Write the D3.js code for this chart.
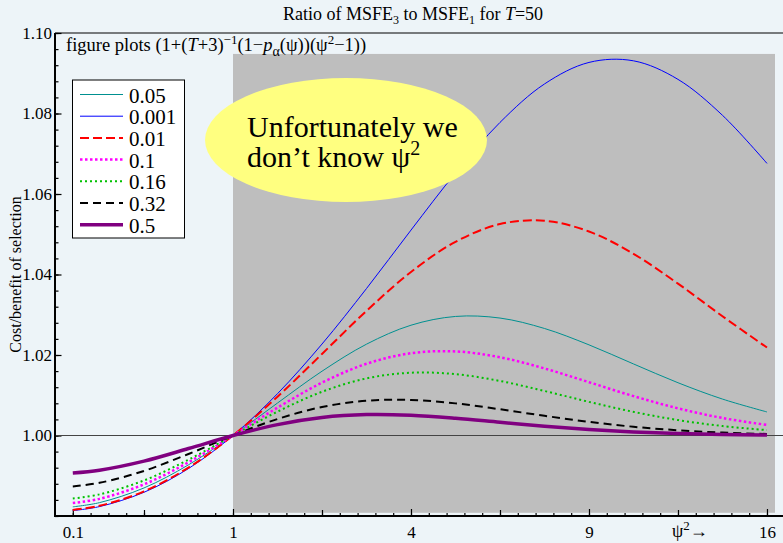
<!DOCTYPE html>
<html>
<head>
<meta charset="utf-8">
<script src="https://cdn.jsdelivr.net/npm/d3@7"></script>
<style>
  body { margin: 0; background: #edf4f8; }
  svg { display: block; font-family: "Liberation Serif", "Times New Roman", serif; }
</style>
</head>
<body>
<svg id="chart" width="783" height="543"></svg>
<script>
"use strict";

// x is psi (tick labels show psi^2 beyond 1), y is the MSFE ratio
var psi = [0.1, 0.25, 0.5, 0.75, 1, 1.25, 1.5, 1.75, 2, 2.25, 2.5, 2.75, 3, 3.25, 3.5, 3.75, 4];

var r005  = [0.98228, 0.98332, 0.98697, 0.99271, 1, 1.00807, 1.01597, 1.02269, 1.02740, 1.02958, 1.02918, 1.02659, 1.02252, 1.01778, 1.01311, 1.00905, 1.00585];
var r0001 = [0.98134, 0.98234, 0.98589, 0.99179, 1, 1.01039, 1.02272, 1.03651, 1.05103, 1.06522, 1.07778, 1.08734, 1.09269, 1.09309, 1.08848, 1.07955, 1.06760];
var r001  = [0.98151, 0.98253, 0.98613, 0.99203, 1, 1.00963, 1.02026, 1.03096, 1.04062, 1.04812, 1.05253, 1.05336, 1.05068, 1.04514, 1.03773, 1.02962, 1.02185];
var r01   = [0.98322, 0.98426, 0.98786, 0.99334, 1, 1.00692, 1.01313, 1.01782, 1.02044, 1.02089, 1.01944, 1.01666, 1.01324, 1.00979, 1.00675, 1.00435, 1.00262];
var r016  = [0.98435, 0.98537, 0.98884, 0.99399, 1, 1.00592, 1.01086, 1.01418, 1.01560, 1.01525, 1.01355, 1.01106, 1.00836, 1.00587, 1.00384, 1.00235, 1.00134];
var r032  = [0.98734, 0.98824, 0.99120, 0.99541, 1, 1.00410, 1.00708, 1.00864, 1.00883, 1.00798, 1.00652, 1.00489, 1.00339, 1.00217, 1.00130, 1.00072, 1.00038];
var r05   = [0.99070, 0.99139, 0.99364, 0.99676, 1, 1.00271, 1.00447, 1.00519, 1.00502, 1.00428, 1.00329, 1.00231, 1.00150, 1.00090, 1.00050, 1.00026, 1.00012];

var seriesNames = ["0.05", "0.001", "0.01", "0.1", "0.16", "0.32", "0.5"];
var seriesValues = [r005, r0001, r001, r01, r016, r032, r05];

var xTickValues = [0.1, 1, 2, 3, 4];
var xTickLabels = ["0.1", "1", "4", "9", "16"];
var yTickValues = [1.00, 1.02, 1.04, 1.06, 1.08, 1.10];

var styles = [
	{ color: "#009090", width: 1,   dash: null },
	{ color: "#0000ff", width: 1,   dash: null },
	{ color: "#ff0000", width: 2,   dash: "9,4" },
	{ color: "#ff00ff", width: 2.5, dash: "2.5,2.5" },
	{ color: "#00c000", width: 2,   dash: "2,3" },
	{ color: "#000000", width: 2,   dash: "8,5" },
	{ color: "#800080", width: 3.5, dash: null }
];

var svg = d3.select("#chart");
var margin = { left: 55, right: 783, top: 33, bottom: 516 };

var x = d3.scaleLinear().domain([0, 4.09]).range([margin.left, margin.right]);
var y = d3.scaleLinear().domain([0.98, 1.10]).range([margin.bottom, margin.top]);

// grey shaded region for psi^2 > 1
svg.append("rect")
	.attr("x", x(1))
	.attr("y", y(1.0948))
	.attr("width", x(4.045) - x(1))
	.attr("height", y(0.9808) - y(1.0948))
	.attr("fill", "#bebebe");

// title
var title = svg.append("text")
	.attr("x", 413)
	.attr("y", 20)
	.attr("text-anchor", "middle")
	.style("font-size", "18px");
title.append("tspan").text("Ratio of MSFE");
title.append("tspan").attr("dy", 4).style("font-size", "12px").text("3");
title.append("tspan").attr("dy", -4).text(" to MSFE");
title.append("tspan").attr("dy", 4).style("font-size", "12px").text("1");
title.append("tspan").attr("dy", -4).text(" for ");
title.append("tspan").style("font-style", "italic").text("T");
title.append("tspan").text("=50");

// formula note
var note = svg.append("text")
	.attr("x", 66)
	.attr("y", 51)
	.style("font-size", "18.5px");
note.append("tspan").text("figure plots (1+(");
note.append("tspan").style("font-style", "italic").text("T");
note.append("tspan").text("+3)");
note.append("tspan").attr("dy", -7).style("font-size", "13px").text("\u22121");
note.append("tspan").attr("dy", 7).text("(1\u2212");
note.append("tspan").style("font-style", "italic").text("p");
note.append("tspan").attr("dy", 5).style("font-size", "14px").text("\u03b1");
note.append("tspan").attr("dy", -5).text("(\u03c8))(\u03c8");
note.append("tspan").attr("dy", -7).style("font-size", "13px").text("2");
note.append("tspan").attr("dy", 7).text("\u22121))");

// axes: minor and major ticks point inward
var xMinor = d3.range(1, 41).map(function(i) { return i / 10; });
var xHalf = [0.5, 1.5, 2.5, 3.5];
svg.append("g")
	.attr("transform", "translate(0," + margin.bottom + ")")
	.call(d3.axisBottom(x).tickValues(xMinor).tickSize(-3).tickFormat(""))
	.call(function(g) { g.select(".domain").remove(); });
svg.append("g")
	.attr("transform", "translate(0," + margin.bottom + ")")
	.call(d3.axisBottom(x).tickValues(xHalf).tickSize(-6).tickFormat(""))
	.call(function(g) { g.select(".domain").remove(); });
svg.append("g")
	.attr("class", "axis axis--x")
	.attr("transform", "translate(0," + margin.bottom + ")")
	.call(d3.axisBottom(x).tickValues(xTickValues).tickSize(-7).tickPadding(10)
		.tickFormat(function(d, i) { return xTickLabels[i]; }))
	.call(function(g) { g.select(".domain").remove(); });

var yMinor = d3.range(0, 31).map(function(i) { return 0.98 + i * 0.004; });
svg.append("g")
	.attr("transform", "translate(" + margin.left + ",0)")
	.call(d3.axisLeft(y).tickValues(yMinor).tickSize(-3.5).tickFormat(""))
	.call(function(g) { g.select(".domain").remove(); });
svg.append("g")
	.attr("class", "axis axis--y")
	.attr("transform", "translate(" + margin.left + ",0)")
	.call(d3.axisLeft(y).tickValues(yTickValues).tickSize(-6.5).tickPadding(3).tickFormat(d3.format(".2f")))
	.call(function(g) { g.select(".domain").remove(); });

svg.selectAll(".axis text")
	.style("font-family", "\"Liberation Serif\", \"Times New Roman\", serif")
	.style("font-size", "17px")
	.attr("fill", "#000");
svg.selectAll(".tick line").attr("stroke", "#000").attr("stroke-width", 1.2);

// psi^2 arrow label
var xl = svg.append("text")
	.attr("x", 672)
	.attr("y", 537)
	.style("font-size", "18px");
xl.append("tspan").text("\u03c8");
xl.append("tspan").attr("dy", -7).style("font-size", "13px").text("2");
xl.append("tspan").attr("dy", 7).text("\u2192");

// y label
svg.append("text")
	.attr("text-anchor", "middle")
	.attr("transform", "translate(21," + ((margin.top + margin.bottom) / 2) + ")rotate(-90)")
	.style("font-size", "16px")
	.text("Cost/benefit of selection");

// reference line at 1 and frame lines
svg.append("line")
	.attr("x1", margin.left).attr("x2", margin.right)
	.attr("y1", y(1)).attr("y2", y(1))
	.attr("stroke", "#444").attr("stroke-width", 1);
svg.append("line")
	.attr("x1", margin.left).attr("x2", margin.right)
	.attr("y1", margin.top).attr("y2", margin.top)
	.attr("stroke", "#000").attr("stroke-width", 1);

// curves
var line = d3.line()
	.x(function(d, i) { return x(psi[i]); })
	.y(function(d) { return y(d); })
	.curve(d3.curveCatmullRom.alpha(0.5));

seriesValues.forEach(function(vals, k) {
	svg.append("path")
		.datum(vals)
		.attr("fill", "none")
		.attr("stroke", styles[k].color)
		.attr("stroke-width", styles[k].width)
		.attr("stroke-dasharray", styles[k].dash)
		.attr("d", line);
});

svg.append("line")
	.attr("x1", margin.left).attr("x2", margin.right)
	.attr("y1", margin.bottom).attr("y2", margin.bottom)
	.attr("stroke", "#000").attr("stroke-width", 2);
svg.append("line")
	.attr("x1", margin.left).attr("x2", margin.left)
	.attr("y1", margin.top).attr("y2", margin.bottom + 1)
	.attr("stroke", "#000").attr("stroke-width", 2);

// speech bubble
svg.append("ellipse")
	.attr("cx", 346).attr("cy", 140)
	.attr("rx", 141).attr("ry", 62)
	.attr("fill", "#ffff80");
var bubble = svg.append("text")
	.attr("x", 247).attr("y", 137)
	.style("font-size", "30px");
bubble.append("tspan").attr("x", 247).text("Unfortunately we");
bubble.append("tspan").attr("x", 247).attr("dy", 30).text("don\u2019t know \u03c8");
bubble.append("tspan").attr("dy", -12).style("font-size", "20px").text("2");

// legend
var legend = svg.append("g");
legend.append("rect")
	.attr("x", 72.5).attr("y", 80)
	.attr("width", 112).attr("height", 158)
	.attr("fill", "#fff").attr("stroke", "#000").attr("stroke-width", 1);

seriesNames.forEach(function(name, k) {
	var yy = 94.5 + k * 21.7;
	legend.append("line")
		.attr("x1", 80).attr("x2", 123)
		.attr("y1", yy).attr("y2", yy)
		.attr("stroke", styles[k].color)
		.attr("stroke-width", styles[k].width)
		.attr("stroke-dasharray", styles[k].dash);
	legend.append("text")
		.attr("x", 129).attr("y", yy + 8)
		.style("font-size", "21px")
		.text(name);
});
</script>
</body>
</html>
